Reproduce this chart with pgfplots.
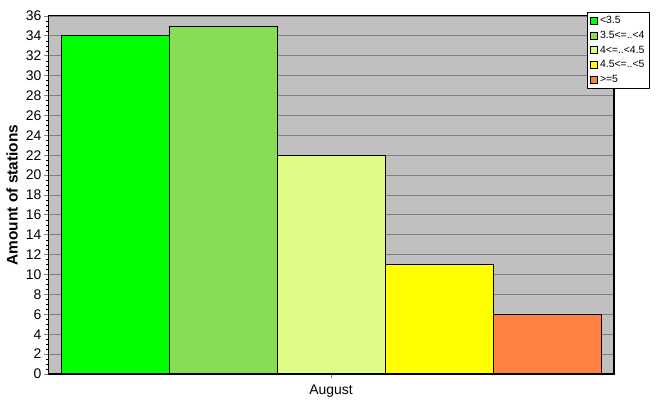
\documentclass[border=0pt]{standalone}
\usepackage{pgfplots}
\pgfplotsset{compat=1.18}
\usepackage{fontspec}
\setmainfont{Liberation Sans}
\definecolor{bgc}{HTML}{C0C0C0}
\definecolor{gridc}{HTML}{808080}
\definecolor{cA}{HTML}{00FF00}
\definecolor{cB}{HTML}{88DD55}
\definecolor{cC}{HTML}{E0FA88}
\definecolor{cD}{HTML}{FFFF00}
\definecolor{cE}{HTML}{FF8040}
\begin{document}
\begin{tikzpicture}
\useasboundingbox (-48bp,-41bp) rectangle (619bp,374bp);
\begin{axis}[
  at={(0,0)}, anchor=south west,
  scale only axis, width=566bp, height=358bp,
  xmin=-0.62, xmax=4.62, ymin=0, ymax=36,
  ytick distance=2,
  minor y tick num=3,
  xtick={2}, xticklabels={August},
  xtick pos=bottom, ytick pos=left,
  ymajorgrids, grid style={gridc, line width=0.8bp},
  axis background/.style={fill=bgc},
  tick align=outside,
  major tick length=4bp, minor tick length=2bp,
  major tick style={gridc, line width=0.8bp},
  minor tick style={black, line width=0.4bp},
  axis line style={black, line width=1bp},
  tick label style={font=\fontsize{14}{16}\selectfont},
  xticklabel style={yshift=-3bp},
  yticklabel style={xshift=1bp},
  /pgf/number format/assume math mode=true,
  ylabel={\bfseries Amount of stations},
  every axis y label/.style={at={(rel axis cs:0,0.5)}, rotate=90, anchor=center, yshift=36bp, font=\fontsize{15.5}{17}\selectfont},
  every axis plot/.append style={ybar, bar width=1, bar shift=0pt, draw=black, line width=0.8bp},
  legend style={at={(rel axis cs:0.952,1.011)}, anchor=north west,
    font=\fontsize{10.5}{12}\selectfont, draw=black, fill=white,
    line width=0.8bp, inner xsep=3bp, inner ysep=2bp, row sep=2bp, cells={anchor=west}},
  legend image code/.code={\draw[#1, draw=black, line width=0.8bp] (0bp,-3.5bp) rectangle (7bp,3.5bp);},
]
\addplot[fill=cA] coordinates {(0,34)};
\addlegendentry{<3.5}
\addplot[fill=cB] coordinates {(1,35)};
\addlegendentry{3.5<=..<4}
\addplot[fill=cC] coordinates {(2,22)};
\addlegendentry{4<=..<4.5}
\addplot[fill=cD] coordinates {(3,11)};
\addlegendentry{4.5<=..<5}
\addplot[fill=cE] coordinates {(4,6)};
\addlegendentry{>=5}
\draw[black, line width=2.2bp] (rel axis cs:0,1) -- (rel axis cs:0,0) -- (rel axis cs:1,0) -- (rel axis cs:1,1);
\end{axis}
\end{tikzpicture}
\end{document}
